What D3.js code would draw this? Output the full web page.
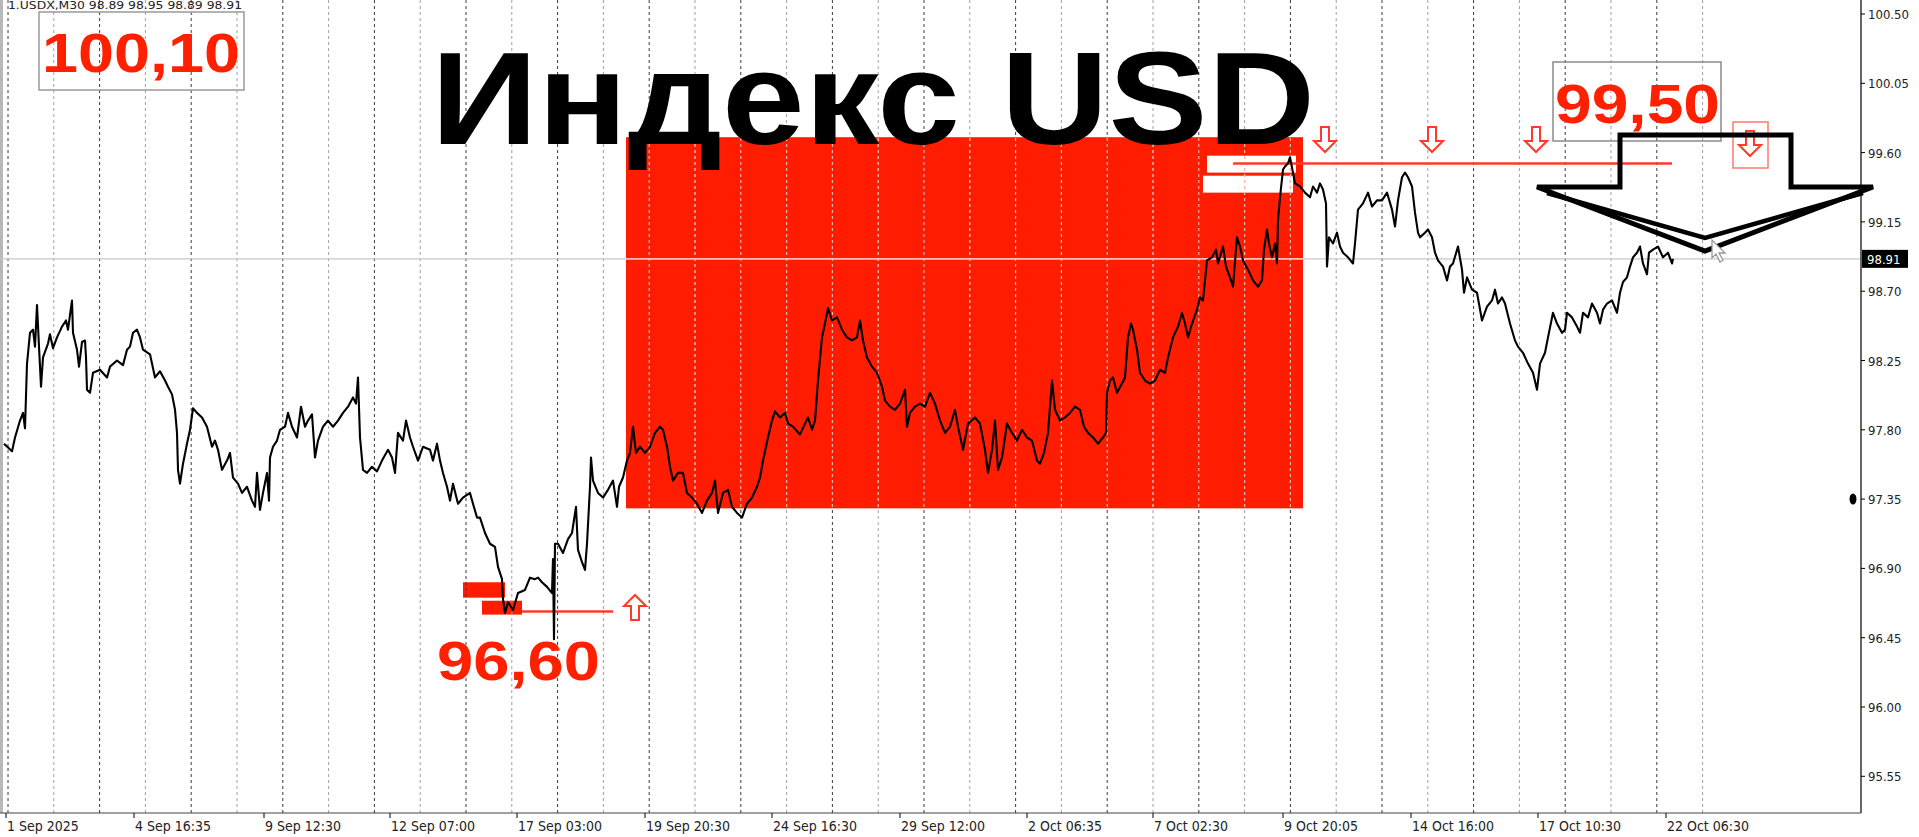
<!DOCTYPE html>
<meta charset="utf-8">
<style>
body { margin: 0; background: #fff; }
svg { display: block; }
.axis text {
  font-family: "DejaVu Sans Condensed", "DejaVu Sans", sans-serif;
  font-stretch: condensed;
  font-size: 13px;
  fill: #222;
}
.axis .xl { font-size: 14px; }
.big {
  font-family: "Liberation Sans", Arial, sans-serif;
  font-weight: bold;
}
</style>
<body>
<svg width="1919" height="837"></svg>
<script src="https://cdn.jsdelivr.net/npm/d3@7"></script>
<script>

// x axis: M30 bar number counted from 1 Sep 2025 00:00
var timeLabels = ["1 Sep 2025", "4 Sep 16:35", "9 Sep 12:30", "12 Sep 07:00", "17 Sep 03:00",
  "19 Sep 20:30", "24 Sep 16:30", "29 Sep 12:00", "2 Oct 06:35", "7 Oct 02:30",
  "9 Oct 20:05", "14 Oct 16:00", "17 Oct 10:30", "22 Oct 06:30"];
var labelBars = [0, 128, 258, 384, 511, 639, 766, 894, 1021, 1147, 1277, 1405, 1532, 1660];

var priceTicks = [100.50, 100.05, 99.60, 99.15, 98.70, 98.25, 97.80, 97.35, 96.90, 96.45, 96.00, 95.55];
var lastPrice = 98.91;

// levels marked on the chart
var resistance = 99.53, support = 96.62;
var resistanceLabel = "99,50", supportLabel = "96,60", topLabel = "100,10";

// USDX M30 closes, [bar, price]
var usdx = [
  [-2,97.71],[6,97.66],[9,97.75],[14,97.86],[17,97.91],[19,97.81],[21,98.23],[24,98.43],[27,98.45],[29,98.34],
  [31,98.61],[33,98.34],[35,98.08],[37,98.27],[42,98.36],[44,98.42],[47,98.33],[51,98.40],[56,98.47],[60,98.51],
  [62,98.45],[66,98.64],[67,98.43],[71,98.32],[73,98.21],[76,98.37],[79,98.38],[80,98.27],[81,98.06],[84,98.04],
  [87,98.17],[94,98.19],[101,98.14],[104,98.21],[111,98.25],[117,98.22],[121,98.32],[124,98.34],[127,98.43],[131,98.45],
  [134,98.40],[137,98.32],[144,98.29],[149,98.14],[154,98.18],[159,98.12],[162,98.08],[166,98.03],[169,97.93],[171,97.78],
  [172,97.54],[174,97.45],[177,97.58],[181,97.71],[184,97.80],[187,97.94],[191,97.91],[196,97.88],[201,97.82],[206,97.69],
  [209,97.73],[212,97.67],[216,97.54],[221,97.60],[224,97.65],[227,97.49],[232,97.45],[236,97.39],[241,97.43],[246,97.34],
  [249,97.30],[251,97.52],[254,97.28],[257,97.39],[261,97.52],[263,97.34],[264,97.62],[267,97.69],[271,97.73],[274,97.80],
  [279,97.82],[282,97.91],[286,97.82],[291,97.75],[295,97.95],[299,97.82],[302,97.86],[306,97.90],[309,97.62],[312,97.73],
  [317,97.82],[322,97.86],[327,97.82],[332,97.86],[337,97.91],[342,97.95],[347,98.01],[350,97.97],[352,98.14],[354,97.75],
  [357,97.54],[361,97.52],[366,97.56],[371,97.53],[376,97.60],[382,97.67],[386,97.62],[389,97.52],[392,97.78],[397,97.73],
  [400,97.86],[404,97.75],[407,97.69],[412,97.60],[417,97.69],[424,97.67],[427,97.60],[431,97.71],[434,97.60],[437,97.52],
  [441,97.43],[444,97.34],[447,97.45],[452,97.32],[457,97.36],[464,97.39],[467,97.32],[471,97.23],
  [474,97.23],[479,97.13],[484,97.06],[489,97.04],[492,96.91],[496,96.83],[497,96.70],[499,96.61],[502,96.68],[507,96.63],
  [512,96.74],[519,96.76],[524,96.84],[529,96.83],[532,96.84],[536,96.81],[541,96.78],[546,96.74],[547,96.96],[548,96.44],
  [549,97.06],[552,97.06],[557,97.00],[562,97.09],[566,97.13],[570,97.30],[572,97.02],[576,96.94],[579,96.89],[581,97.06],
  [584,97.43],[585,97.62],[587,97.47],[592,97.39],[597,97.36],[602,97.41],[607,97.47],[611,97.30],[613,97.43],[617,97.49],
  [621,97.60],[624,97.65],[627,97.82],[630,97.65],[634,97.69],[639,97.65],[644,97.69],[649,97.78],[654,97.82],[657,97.80],
  [661,97.69],[664,97.56],[667,97.47],[672,97.52],[677,97.52],[681,97.39],[686,97.36],[691,97.32],[696,97.26],[701,97.34],
  [706,97.39],[709,97.47],[712,97.26],[717,97.39],[722,97.41],[726,97.30],[731,97.26],[736,97.23],[741,97.32],[746,97.36],
  [751,97.43],[754,97.49],[757,97.60],[762,97.75],[766,97.86],[769,97.92],[774,97.88],[779,97.91],[782,97.84],[787,97.82],
  [794,97.77],[799,97.84],[802,97.88],[806,97.80],[809,97.86],[812,98.12],[816,98.40],[819,98.49],[822,98.59],[826,98.51],
  [831,98.53],[836,98.45],[841,98.40],[846,98.38],[851,98.40],[854,98.51],[857,98.38],[861,98.27],[866,98.21],[871,98.17],
  [876,98.08],[879,97.99],[884,97.95],[889,97.93],[894,97.97],[899,98.06],[901,97.82],[904,97.91],[909,97.95],[914,97.97],
  [919,97.95],[924,98.04],[929,97.97],[934,97.86],[939,97.78],[944,97.82],
  [949,97.93],[952,97.82],[957,97.67],[962,97.84],[969,97.88],[974,97.84],[979,97.67],[982,97.52],[986,97.67],[989,97.86],
  [992,97.54],[996,97.62],[1001,97.84],[1006,97.78],[1011,97.73],[1016,97.80],[1021,97.75],[1026,97.73],[1031,97.60],[1034,97.58],
  [1038,97.65],[1042,97.78],[1046,98.12],[1049,97.93],[1054,97.86],[1059,97.88],[1064,97.91],[1069,97.95],[1074,97.93],[1078,97.82],
  [1082,97.78],[1087,97.75],[1092,97.71],[1097,97.75],[1100,97.78],[1101,98.04],[1104,98.12],[1107,98.14],[1111,98.04],[1116,98.10],
  [1119,98.14],[1122,98.40],[1125,98.49],[1127,98.45],[1131,98.32],[1134,98.17],[1139,98.12],[1144,98.10],[1149,98.12],[1154,98.19],
  [1159,98.17],[1162,98.27],[1167,98.40],[1172,98.47],[1176,98.56],[1179,98.49],[1182,98.40],[1186,98.49],[1191,98.58],[1194,98.66],
  [1197,98.64],[1201,98.90],[1206,98.92],[1210,98.97],[1212,98.88],[1217,98.99],[1220,98.86],[1224,98.79],[1227,98.73],[1231,99.05],
  [1234,98.99],[1237,98.90],[1242,98.84],[1247,98.77],[1252,98.73],[1256,98.77],[1258,98.97],[1261,99.10],[1263,99.01],[1266,98.92],
  [1269,99.01],[1271,98.88],[1272,99.16],[1274,99.31],[1277,99.49],[1279,99.51],[1282,99.53],[1284,99.57],[1287,99.47],[1289,99.40],
  [1294,99.38],[1299,99.34],[1304,99.31],[1307,99.38],[1311,99.34],[1314,99.40],[1317,99.36],[1320,99.27],[1321,98.86],[1323,99.05],
  [1327,99.01],[1331,99.08],[1334,98.99],[1337,98.95],[1342,98.92],[1347,98.88],[1349,99.01],[1352,99.23],[1357,99.27],[1362,99.34],
  [1366,99.25],[1371,99.29],[1376,99.29],[1381,99.34],[1386,99.23],[1389,99.12],[1392,99.29],[1396,99.44],[1399,99.47],[1402,99.44],
  [1406,99.38],[1409,99.21],[1412,99.08],
  [1414,99.05],[1419,99.08],[1422,99.10],[1426,99.05],[1429,98.95],[1432,98.90],[1437,98.86],[1441,98.77],[1444,98.86],[1447,98.88],
  [1452,98.99],[1456,98.84],[1458,98.69],[1461,98.79],[1466,98.71],[1471,98.69],[1476,98.51],[1481,98.60],[1486,98.64],[1489,98.71],
  [1492,98.62],[1496,98.66],[1499,98.62],[1504,98.49],[1509,98.38],[1512,98.34],[1517,98.30],[1522,98.23],[1527,98.17],[1531,98.06],
  [1534,98.23],[1539,98.30],[1542,98.40],[1547,98.56],[1551,98.49],[1556,98.43],[1559,98.45],[1561,98.56],[1566,98.53],[1571,98.47],
  [1574,98.43],[1577,98.56],[1582,98.53],[1586,98.62],[1591,98.56],[1594,98.49],[1597,98.58],[1601,98.62],[1606,98.64],[1611,98.56],
  [1614,98.69],[1617,98.76],[1621,98.79],[1624,98.86],[1627,98.92],[1631,98.95],[1634,98.99],[1637,98.88],[1641,98.81],[1643,98.95],
  [1647,98.97],[1652,98.99],[1657,98.92],[1662,98.95],[1666,98.88],[1667,98.91]
];

var svg = d3.select("svg");
var plotRight = 1861, plotBottom = 813;
var red = "#ff1c00";

var x = d3.scaleLinear().domain([0, 1660]).range([6, 1666]);
var y = d3.scaleLinear().domain([100.5, 95.55]).range([14, 776.3]);

// grid every ~46 bars, stops at the last bar
var gridBars = d3.range(38).map(function(k) { return 2 + k * 45.8; });

// left frame
svg.append("rect").attr("x", 0).attr("y", 0).attr("width", 3).attr("height", plotBottom).attr("fill", "#b8b8b8");

// big sell zone
var zone = { b0: 620, b1: 1297, top: 99.70, bottom: 97.29 };
svg.append("rect")
    .attr("x", x(zone.b0)).attr("y", y(zone.top))
    .attr("width", x(zone.b1) - x(zone.b0)).attr("height", y(zone.bottom) - y(zone.top))
    .attr("fill", red);

svg.append("clipPath").attr("id", "zoneclip").append("rect")
    .attr("x", x(zone.b0)).attr("y", y(zone.top))
    .attr("width", x(zone.b1) - x(zone.b0)).attr("height", y(zone.bottom) - y(zone.top));

// white rectangles near the top of the zone
[[1201, 1290, 99.58, 99.47], [1197, 1287, 99.45, 99.34]].forEach(function(r) {
  svg.append("rect")
      .attr("x", x(r[0])).attr("y", y(r[2]))
      .attr("width", x(r[1]) - x(r[0])).attr("height", y(r[3]) - y(r[2]))
      .attr("fill", "#fff");
});

// red blocks at the low
[[457, 499, 96.81, 96.71], [476, 516, 96.69, 96.60]].forEach(function(r) {
  svg.append("rect")
      .attr("x", x(r[0])).attr("y", y(r[2]))
      .attr("width", x(r[1]) - x(r[0])).attr("height", y(r[3]) - y(r[2]))
      .attr("fill", red);
});

// vertical grid
svg.append("g").selectAll("line")
    .data(gridBars)
    .enter().append("line")
    .attr("x1", function(d) { return x(d); }).attr("x2", function(d) { return x(d); })
    .attr("y1", 0).attr("y2", plotBottom)
    .attr("stroke", function(d, i) { return i % 2 ? "#a0a0a0" : "#3a3a3a"; })
    .attr("stroke-width", 1)
    .attr("stroke-dasharray", "3,3");

svg.append("g").attr("clip-path", "url(#zoneclip)").selectAll("line")
    .data(gridBars)
    .enter().append("line")
    .attr("x1", function(d) { return x(d); }).attr("x2", function(d) { return x(d); })
    .attr("y1", 0).attr("y2", plotBottom)
    .attr("stroke", "#ffb4a8")
    .attr("stroke-width", 1.2)
    .attr("stroke-dasharray", "3,3");

// current price line
svg.append("line")
    .attr("x1", 0).attr("x2", plotRight)
    .attr("y1", y(lastPrice)).attr("y2", y(lastPrice))
    .attr("stroke", "#c8c8c8").attr("stroke-width", 1.3);
svg.append("line").attr("clip-path", "url(#zoneclip)")
    .attr("x1", 0).attr("x2", plotRight)
    .attr("y1", y(lastPrice)).attr("y2", y(lastPrice))
    .attr("stroke", "#ffc0b4").attr("stroke-width", 1.5);

// level lines
svg.append("line")
    .attr("x1", x(1227)).attr("x2", x(1666))
    .attr("y1", y(resistance)).attr("y2", y(resistance))
    .attr("stroke", "#ff3a28").attr("stroke-width", 2.5);
svg.append("line")
    .attr("x1", x(516)).attr("x2", x(607))
    .attr("y1", y(support)).attr("y2", y(support))
    .attr("stroke", "#ff3a28").attr("stroke-width", 2.5);

// hollow arrows
function arrowPath(cx, top, dir) {
  // dir 1 = down, -1 = up; top is the stem end
  var s = 4, w = 11, stem = 14, len = 25;
  var p = [[cx - s, 0], [cx + s, 0], [cx + s, stem], [cx + w, stem], [cx, len], [cx - w, stem], [cx - s, stem]];
  return "M" + p.map(function(q) { return q[0] + "," + (top + dir * q[1]); }).join("L") + "Z";
}
var downArrows = [1319, 1426, 1530];
downArrows.forEach(function(b) {
  svg.append("path").attr("d", arrowPath(x(b), 127, 1))
      .attr("fill", "#fff").attr("stroke", "#ff3a28").attr("stroke-width", 2);
});
svg.append("rect").attr("x", 1733).attr("y", 122).attr("width", 35).attr("height", 46)
    .attr("fill", "none").attr("stroke", "#ff7a70").attr("stroke-width", 1.5);
svg.append("path").attr("d", arrowPath(1750, 131, 1))
    .attr("fill", "#fff").attr("stroke", "#ff3a28").attr("stroke-width", 2);
svg.append("path").attr("d", arrowPath(x(629), 620, -1))
    .attr("fill", "#fff").attr("stroke", "#ff3a28").attr("stroke-width", 2);

// price line
var line = d3.line()
    .x(function(d) { return x(d[0]); })
    .y(function(d) { return y(d[1]); });

svg.append("path")
    .datum(usdx)
    .attr("d", line)
    .attr("fill", "none")
    .attr("stroke", "#000")
    .attr("stroke-width", 2.1)
    .attr("stroke-linejoin", "round");

// labels in boxes
svg.append("rect").attr("x", 39).attr("y", 12).attr("width", 205).attr("height", 78)
    .attr("fill", "none").attr("stroke", "#9a9a9a").attr("stroke-width", 1.5);
svg.append("rect").attr("x", 1553).attr("y", 62).attr("width", 168).attr("height", 79)
    .attr("fill", "none").attr("stroke", "#8a8a8a").attr("stroke-width", 1.5);

function bigText(txt, x0, base, size, len, color) {
  svg.append("text").attr("class", "big")
      .attr("x", x0).attr("y", base)
      .attr("font-size", size)
      .attr("textLength", len).attr("lengthAdjust", "spacingAndGlyphs")
      .attr("fill", color)
      .text(txt);
}
bigText(topLabel, 42, 72, 56, 198, "#ff2000");
bigText(supportLabel, 437, 680, 56, 163, "#ff2000");
bigText(resistanceLabel, 1555, 123, 56, 165, "#ff2000");
bigText("Индекс USD", 431, 144, 132, 884, "#000");

// symbol line
svg.append("text")
    .attr("x", 8).attr("y", 9)
    .attr("font-family", "DejaVu Sans Condensed, DejaVu Sans, sans-serif")
    .attr("font-size", 11).attr("fill", "#222")
    .attr("textLength", 234).attr("lengthAdjust", "spacingAndGlyphs")
    .text("1.USDX,M30 98.89 98.95 98.89 98.91");

// big down arrow
svg.append("path")
    .attr("d", "M1620,187 L1620,135 L1791,135 L1791,187 L1873,187 L1705,251 L1537,187 Z")
    .attr("fill", "none").attr("stroke", "#000").attr("stroke-width", 5).attr("stroke-linejoin", "miter");
svg.append("path")
    .attr("d", "M1547,193 L1705,238 L1863,193")
    .attr("fill", "none").attr("stroke", "#000").attr("stroke-width", 4.5);

// mouse cursor
svg.append("path")
    .attr("d", "M1712,240 L1712,258 L1716,254 L1720,262 L1723,260 L1719,253 L1725,253 Z")
    .attr("fill", "#fff").attr("stroke", "#999").attr("stroke-width", 1.3);

// axes
var axes = svg.append("g").attr("class", "axis");
axes.append("line").attr("x1", plotRight).attr("x2", plotRight).attr("y1", 0).attr("y2", plotBottom)
    .attr("stroke", "#000").attr("stroke-width", 1.2);
axes.append("line").attr("x1", 0).attr("x2", plotRight).attr("y1", plotBottom).attr("y2", plotBottom)
    .attr("stroke", "#444").attr("stroke-width", 1.2);

axes.selectAll(".yt").data(priceTicks).enter().append("line")
    .attr("x1", plotRight).attr("x2", plotRight + 4)
    .attr("y1", function(d) { return y(d); }).attr("y2", function(d) { return y(d); })
    .attr("stroke", "#000");
axes.selectAll(".yl").data(priceTicks).enter().append("text")
    .attr("x", plotRight + 7).attr("y", function(d) { return y(d) + 5; })
    .text(function(d) { return d3.format(".2f")(d); });

axes.selectAll(".xt").data(labelBars).enter().append("line")
    .attr("x1", function(d) { return x(d); }).attr("x2", function(d) { return x(d); })
    .attr("y1", plotBottom).attr("y2", plotBottom + 5)
    .attr("stroke", "#000");
axes.selectAll(".xl").data(labelBars).enter().append("text")
    .attr("class", "xl")
    .attr("x", function(d) { return x(d) + 1; }).attr("y", plotBottom + 18)
    .text(function(d, i) { return timeLabels[i]; });

// last price tag
axes.append("rect").attr("x", plotRight + 1).attr("y", y(lastPrice) - 9).attr("width", 46).attr("height", 18)
    .attr("fill", "#000");
axes.append("text").attr("x", plotRight + 6).attr("y", y(lastPrice) + 5)
    .style("fill", "#fff").text(d3.format(".2f")(lastPrice));

// stray marker at the axis
svg.append("ellipse").attr("cx", 1853).attr("cy", y(97.35)).attr("rx", 3.5).attr("ry", 5.5).attr("fill", "#000");

</script>
</body>
